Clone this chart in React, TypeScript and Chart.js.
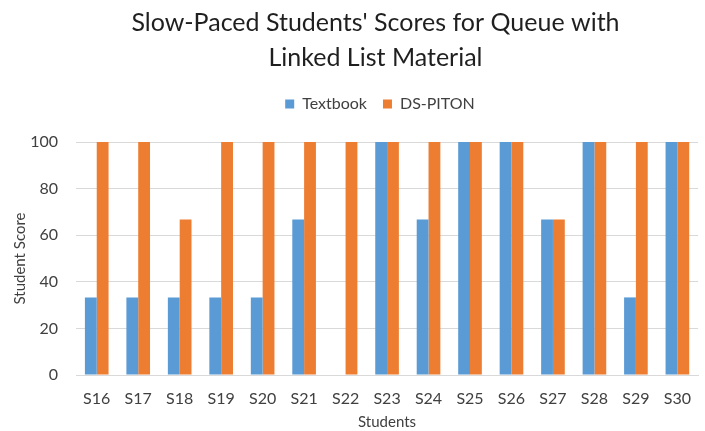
import React, { useEffect, useRef } from "react";
import { Chart, registerables } from "chart.js";

Chart.register(...registerables);

const students = ["S16", "S17", "S18", "S19", "S20", "S21", "S22", "S23", "S24", "S25", "S26", "S27", "S28", "S29", "S30"];
const textbook = [33.3, 33.3, 33.3, 33.3, 33.3, 66.7, 0, 100, 66.7, 100, 100, 66.7, 100, 33.3, 100];
const dsPiton = [100, 100, 66.7, 100, 100, 100, 100, 100, 100, 100, 100, 66.7, 100, 100, 100];
const titleLines = ["Slow-Paced Students' Scores for Queue with", "Linked List Material"];

const FONT = "Lato, 'Open Sans', sans-serif";

const legendGap = {
  id: "legendGap",
  beforeInit(chart: any) {
    const orig = chart.legend.fit;
    chart.legend.fit = function fit() {
      orig.bind(chart.legend)();
      this.height += 20;
    };
  },
  afterLayout(chart: any) {
    // shift the centring of title and legend to match the original's off-centre header
    if (chart.titleBlock) {
      chart.titleBlock.left = 46;
      chart.titleBlock.width = chart.titleBlock.right - 46;
    }
    if (chart.legend) {
      chart.legend.left = 55;
      chart.legend.width = chart.legend.right - 55;
    }
  },
};

export default function App() {
  const ref = useRef<HTMLCanvasElement>(null);
  useEffect(() => {
    if (!ref.current) return;
    const chart = new Chart(ref.current, {
      type: "bar",
      data: {
        labels: students,
        datasets: [
          { label: "Textbook", data: textbook, backgroundColor: "#5b9bd5", categoryPercentage: 0.57, barPercentage: 1 },
          { label: "DS-PITON", data: dsPiton, backgroundColor: "#ed7d31", categoryPercentage: 0.57, barPercentage: 1 },
        ],
      },
      plugins: [legendGap],
      options: {
        animation: false,
        responsive: false,
        maintainAspectRatio: false,
        layout: { padding: { left: 0, right: 0, top: 5, bottom: 0 } },
        plugins: {
          title: {
            display: true,
            text: titleLines,
            color: "#1f1f1f",
            font: { family: FONT, size: 25, weight: "normal", lineHeight: 1.42 },
            padding: { top: 0, bottom: 4 },
          },
          legend: {
            position: "top",
            labels: {
              color: "#404040",
              font: { family: FONT, size: 16 },
              boxWidth: 9,
              boxHeight: 9,
              padding: 16,
            },
          },
          tooltip: { enabled: false },
        },
        scales: {
          x: {
            grid: { display: false, drawTicks: false },
            border: { display: true, color: "#d9d9d9" },
            ticks: { color: "#404040", font: { family: FONT, size: 16 }, padding: 14, maxRotation: 0 },
            title: { display: true, text: "Students", color: "#404040", font: { family: FONT, size: 15 }, padding: { top: 0, bottom: 0 } },
            afterFit(scale: any) {
              scale.height = 56;
            },
          },
          y: {
            min: 0,
            max: 100,
            grid: { color: "#d9d9d9", drawTicks: false },
            border: { display: false },
            ticks: { stepSize: 20, color: "#404040", font: { family: FONT, size: 16 }, padding: 18 },
            title: { display: true, text: "Student Score", color: "#404040", font: { family: FONT, size: 15 }, padding: { top: 11, bottom: 0 } },
            afterFit(scale: any) {
              scale.width = 76;
            },
          },
        },
      },
    });
    return () => chart.destroy();
  }, []);
  return (
    <div style={{ position: "fixed", left: 0, top: 0, width: 705, height: 431, background: "#fff" }}>
      <canvas ref={ref} width={705} height={431} style={{ width: 705, height: 431 }} />
    </div>
  );
}
